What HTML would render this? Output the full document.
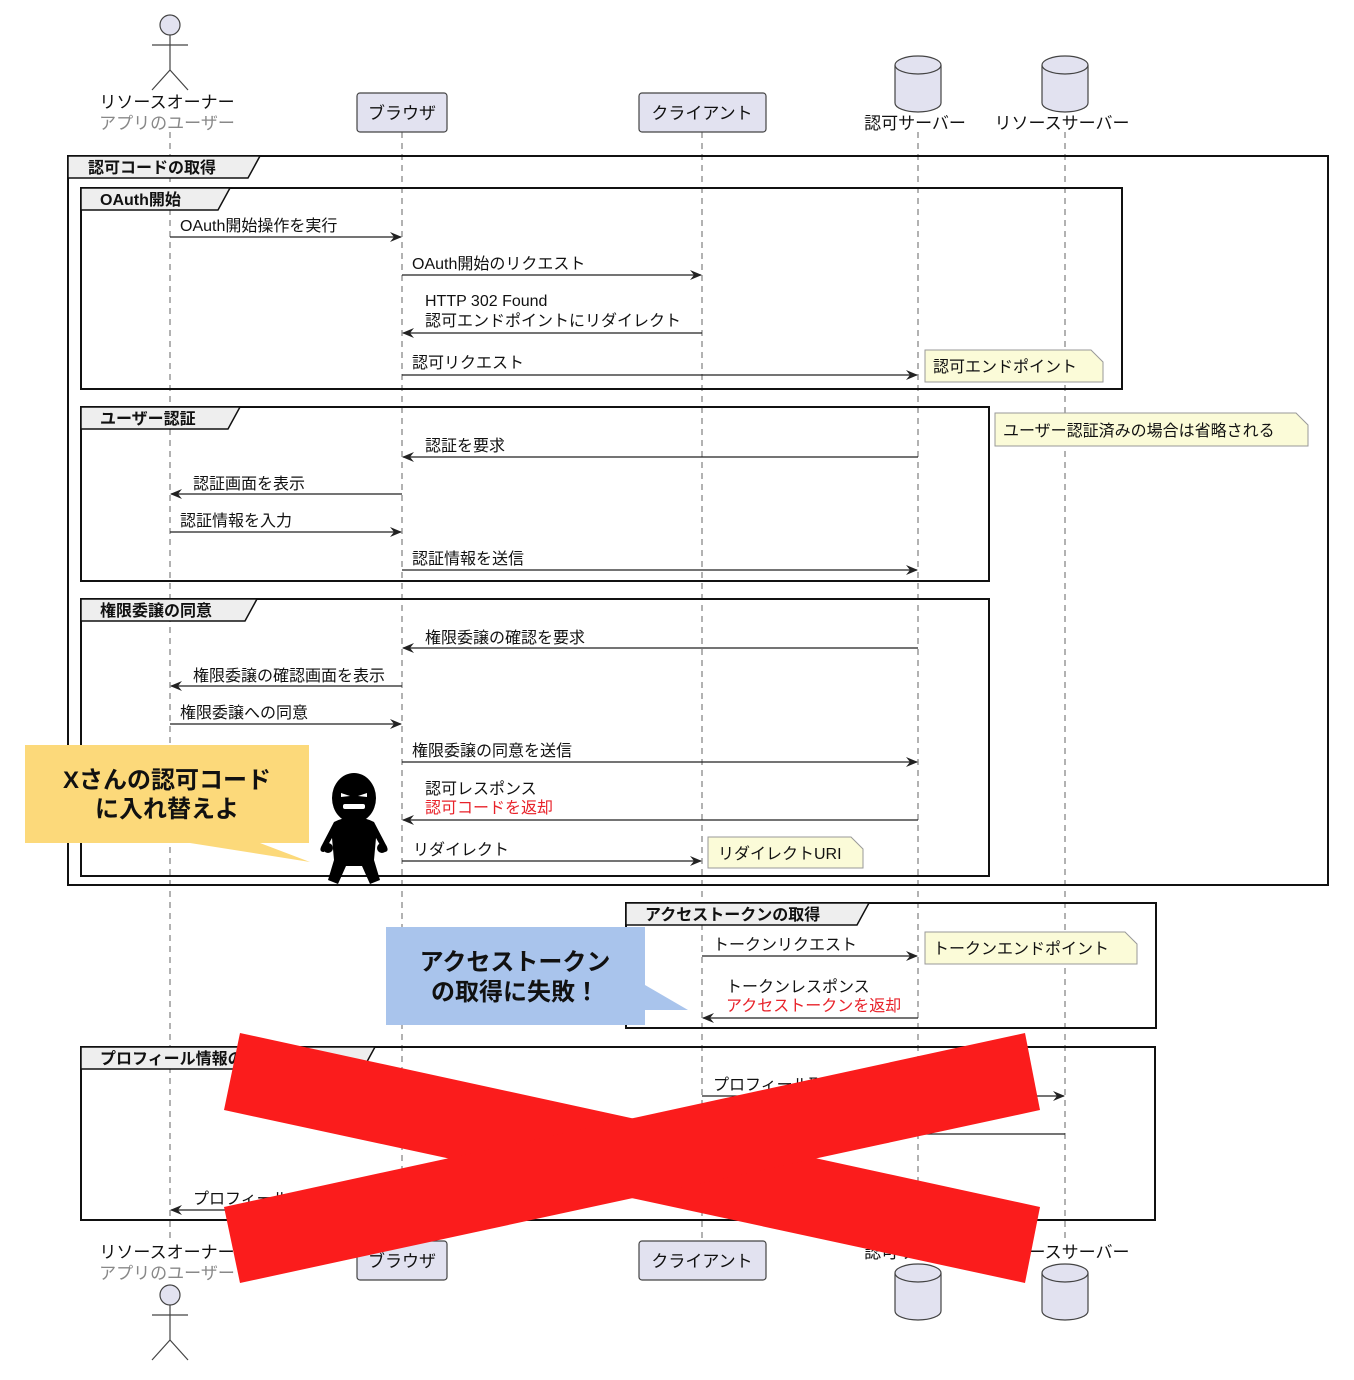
<!DOCTYPE html>
<html><head><meta charset="utf-8"><style>
html,body{margin:0;padding:0;background:#fff;}
svg{display:block;font-family:"Liberation Sans","Noto Sans CJK JP",sans-serif;}
</style></head><body>
<svg width="1354" height="1380" viewBox="0 0 1354 1380" xmlns="http://www.w3.org/2000/svg">
<defs>
<marker id="ah" markerWidth="12" markerHeight="10" refX="11" refY="5" orient="auto" markerUnits="userSpaceOnUse">
<path d="M0,0 L12,5 L0,10 L4,5 Z" fill="#222"/></marker>
</defs>
<g stroke="#666" stroke-dasharray="6,5" stroke-width="1">
<line x1="170" y1="132" x2="170" y2="1241"/><line x1="402" y1="132" x2="402" y2="1241"/>
<line x1="702" y1="132" x2="702" y2="1241"/><line x1="918" y1="132" x2="918" y2="1241"/>
<line x1="1065" y1="132" x2="1065" y2="1241"/>
</g>
<!-- top participants -->
<g stroke="#444" fill="#e2e2f0" stroke-width="1.2">
<circle cx="170" cy="25" r="10"/>
<line x1="170" y1="35" x2="170" y2="70"/><line x1="152" y1="45" x2="188" y2="45"/>
<line x1="170" y1="70" x2="152" y2="90"/><line x1="170" y1="70" x2="188" y2="90"/>
<rect x="357" y="93" width="90" height="39" rx="3"/>
<rect x="639" y="93" width="127" height="39" rx="3"/>
<path d="M895,65 v38 a23,9 0 0 0 46,0 v-38"/><ellipse cx="918" cy="65" rx="23" ry="9"/>
<path d="M1042,65 v38 a23,9 0 0 0 46,0 v-38"/><ellipse cx="1065" cy="65" rx="23" ry="9"/>
<circle cx="170" cy="1295" r="10"/>
<line x1="170" y1="1305" x2="170" y2="1340"/><line x1="152" y1="1315" x2="188" y2="1315"/>
<line x1="170" y1="1340" x2="152" y2="1360"/><line x1="170" y1="1340" x2="188" y2="1360"/>
<rect x="357" y="1241" width="90" height="39" rx="3"/>
<rect x="639" y="1241" width="127" height="39" rx="3"/>
<path d="M895,1273 v38 a23,9 0 0 0 46,0 v-38"/><ellipse cx="918" cy="1273" rx="23" ry="9"/>
<path d="M1042,1273 v38 a23,9 0 0 0 46,0 v-38"/><ellipse cx="1065" cy="1273" rx="23" ry="9"/>
</g>
<g font-size="17" fill="#111" text-anchor="middle">
<text x="167" y="108">リソースオーナー</text><text x="167" y="129" fill="#888">アプリのユーザー</text>
<text x="402" y="119">ブラウザ</text><text x="702" y="119">クライアント</text>
<text x="915" y="129">認可サーバー</text><text x="1062" y="129">リソースサーバー</text>
<text x="167" y="1258">リソースオーナー</text><text x="167" y="1279" fill="#888">アプリのユーザー</text>
<text x="402" y="1267">ブラウザ</text><text x="702" y="1267">クライアント</text>
<text x="915" y="1258">認可サーバー</text><text x="1062" y="1258">リソースサーバー</text>
</g>
<!-- groups -->
<g fill="none" stroke="#111" stroke-width="2">
<rect x="68" y="156" width="1260" height="729"/>
<rect x="81" y="188" width="1041" height="201"/>
<rect x="81" y="407" width="908" height="174"/>
<rect x="81" y="599" width="908" height="277"/>
<rect x="626" y="903" width="530" height="125"/>
<rect x="81" y="1047" width="1074" height="173"/>
</g>
<g fill="#eee" stroke="#111" stroke-width="1.5">
<path d="M68,156 H260 L248,178 H68 Z"/>
<path d="M81,188 H230 L218,210 H81 Z"/>
<path d="M81,407 H240 L228,429 H81 Z"/>
<path d="M81,599 H257 L245,621 H81 Z"/>
<path d="M626,903 H869 L857,925 H626 Z"/>
<path d="M81,1047 H375 L363,1069 H81 Z"/>
</g>
<g font-size="16" font-weight="bold" fill="#111">
<text x="88" y="173">認可コードの取得</text>
<text x="100" y="205">OAuth開始</text>
<text x="100" y="424">ユーザー認証</text>
<text x="100" y="616">権限委譲の同意</text>
<text x="645" y="920">アクセストークンの取得</text>
<text x="100" y="1064">プロフィール情報の取得</text>
</g>
<!-- notes -->
<g fill="#fbfbd8" stroke="#999" stroke-width="1">
<path d="M925,350 H1091 L1103,362 V382 H925 Z"/>
<path d="M995,413 H1296 L1308,425 V446 H995 Z"/>
<path d="M708,837 H851 L863,849 V868 H708 Z"/>
<path d="M925,932 H1125 L1137,944 V964 H925 Z"/>
</g>
<g font-size="16" fill="#111">
<text x="933" y="372">認可エンドポイント</text>
<text x="1003" y="436">ユーザー認証済みの場合は省略される</text>
<text x="718" y="859">リダイレクトURI</text>
<text x="933" y="954">トークンエンドポイント</text>
</g>
<!-- messages -->
<g stroke="#222" stroke-width="1.2" marker-end="url(#ah)">
<line x1="170" y1="237" x2="401" y2="237"/>
<line x1="402" y1="275" x2="701" y2="275"/>
<line x1="702" y1="333" x2="403" y2="333"/>
<line x1="402" y1="375" x2="917" y2="375"/>
<line x1="918" y1="457" x2="403" y2="457"/>
<line x1="402" y1="494" x2="171" y2="494"/>
<line x1="170" y1="532" x2="401" y2="532"/>
<line x1="402" y1="570" x2="917" y2="570"/>
<line x1="918" y1="648" x2="403" y2="648"/>
<line x1="402" y1="686" x2="171" y2="686"/>
<line x1="170" y1="724" x2="401" y2="724"/>
<line x1="402" y1="762" x2="917" y2="762"/>
<line x1="918" y1="820" x2="403" y2="820"/>
<line x1="402" y1="861" x2="701" y2="861"/>
<line x1="702" y1="956" x2="917" y2="956"/>
<line x1="918" y1="1018" x2="703" y2="1018"/>
<line x1="702" y1="1096" x2="1064" y2="1096"/>
<line x1="402" y1="1210" x2="171" y2="1210"/>
</g>
<line x1="1065" y1="1134" x2="702" y2="1134" stroke="#222" stroke-width="1.2"/>
<g font-size="16" fill="#111">
<text x="180" y="231">OAuth開始操作を実行</text>
<text x="412" y="269">OAuth開始のリクエスト</text>
<text x="425" y="306">HTTP 302 Found</text>
<text x="425" y="326">認可エンドポイントにリダイレクト</text>
<text x="412" y="368">認可リクエスト</text>
<text x="425" y="451">認証を要求</text>
<text x="193" y="489">認証画面を表示</text>
<text x="180" y="526">認証情報を入力</text>
<text x="412" y="564">認証情報を送信</text>
<text x="425" y="643">権限委譲の確認を要求</text>
<text x="193" y="681">権限委譲の確認画面を表示</text>
<text x="180" y="718">権限委譲への同意</text>
<text x="412" y="756">権限委譲の同意を送信</text>
<text x="425" y="794">認可レスポンス</text>
<text x="425" y="813" fill="#e8222a">認可コードを返却</text>
<text x="413" y="855">リダイレクト</text>
<text x="713" y="950">トークンリクエスト</text>
<text x="726" y="992">トークンレスポンス</text>
<text x="726" y="1011" fill="#e8222a">アクセストークンを返却</text>
<text x="713" y="1090">プロフィール取得</text>
<text x="193" y="1204">プロフィール</text>
</g>
<!-- callouts -->
<path d="M25,745 H309 V843 H260 L310,862 L190,843 H25 Z" fill="#fcd97a"/>
<g font-size="24" font-weight="bold" fill="#111" text-anchor="middle">
<text x="167" y="788">Xさんの認可コード</text><text x="167" y="817">に入れ替えよ</text>
</g>
<path d="M386,927 H645 V985 L688,1010 L645,1010 V1025 H386 Z" fill="#a9c4ec"/>
<g font-size="24" font-weight="bold" fill="#111" text-anchor="middle">
<text x="515" y="970">アクセストークン</text><text x="515" y="1000">の取得に失敗！</text>
</g>
<!-- villain -->
<g fill="#000">
<ellipse cx="354" cy="798" rx="22" ry="25"/>
<path d="M334,822 Q354,812 374,822 L386,845 Q390,852 384,852 L376,838 L374,860 L380,880 L370,884 L362,866 L346,866 L338,884 L328,880 L334,860 L332,838 L324,852 Q318,852 322,845 Z"/>
<rect x="323" y="843" width="10" height="10" rx="5"/><rect x="377" y="843" width="10" height="10" rx="5"/>
</g>
<g fill="#fff"><path d="M341,793 l9,3 -9,1 z"/><path d="M367,793 l-9,3 9,1 z"/><rect x="343" y="804" width="22" height="5" rx="2"/></g>
<!-- red X -->
<g fill="#fb1c1c">
<polygon points="240,1033 1040,1207 1025,1283 224,1110"/>
<polygon points="224,1207 1025,1033 1040,1110 240,1283"/>
</g>
</svg>
</body></html>
